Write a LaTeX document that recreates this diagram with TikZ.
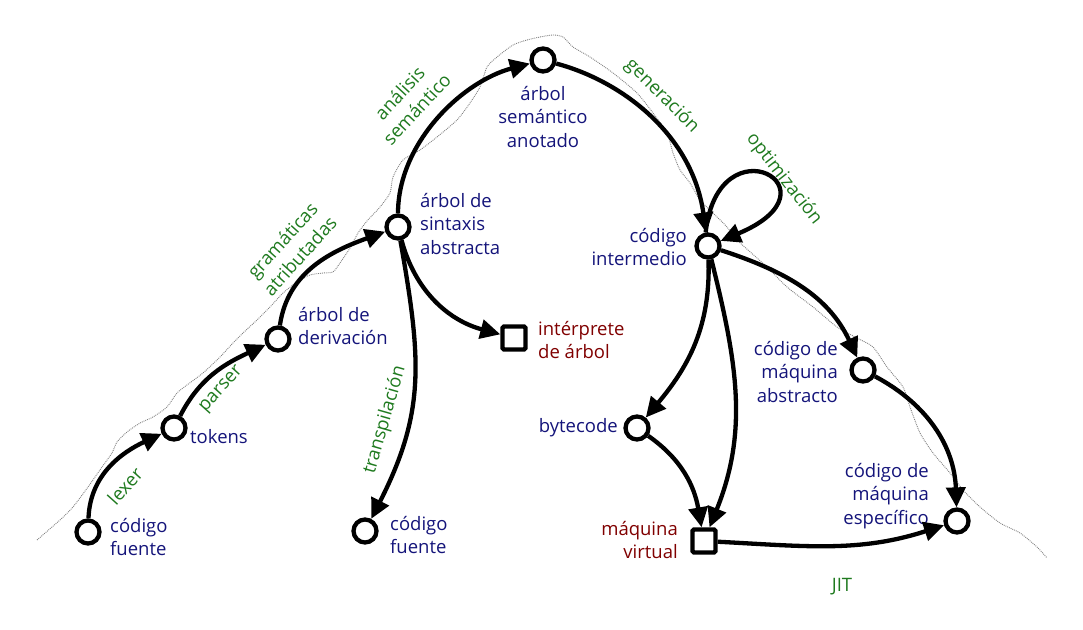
\documentclass[tikz,border=0pt]{standalone}
\usepackage{fontspec}
\setmainfont{Open Sans}
\usetikzlibrary{arrows.meta}
\definecolor{stblue}{HTML}{14147A}
\definecolor{stgreen}{HTML}{1F7A1F}
\definecolor{stred}{HTML}{800000}
\begin{document}
\begin{tikzpicture}[x=1pt,y=1pt,
  state/.style={circle, draw, line width=4.3pt, fill=white, minimum size=23pt, inner sep=0pt},
  machine/.style={rectangle, draw, line width=4.3pt, fill=white, minimum size=23pt, inner sep=0pt, rounded corners=1.5pt},
  flow/.style={line width=4.3pt, -{Triangle[length=20pt,width=19pt]}},
  txt/.style={font=\fontsize{18.5}{23.5}\selectfont, inner sep=0pt},
  sname/.style={txt, text=stblue},
  mname/.style={txt, text=stred},
  ename/.style={txt, text=stgreen, align=center},
]
\useasboundingbox (0,0) rectangle (1083,629);

% outline of the abstraction level
\begin{scope}[shift={(0,629)}, yscale=-1]
\draw[gray, line width=0.9pt, densely dotted]
  plot[smooth, tension=0.4] coordinates {
  (37,540) (60,520) (73,507) (88,487) (102,467) (112,453) (117,442) (127,432)
  (140,423) (153,417) (167,407) (177,393) (187,385) (203,373) (220,357)
  (233,343) (243,333) (257,320) (270,307) (283,293) (297,282) (310,275)
  (323,273) (333,272) (340,263) (350,248) (358,233) (367,221) (380,207)
  (390,193) (393,177) (403,160) (420,150) (437,137) (457,120) (470,103)
  (480,87) (487,67) (497,57) (513,45) (527,40) (540,37) (553,35) (563,37)
  (573,47) (590,57) (613,73) (637,93) (653,113) (667,133) (673,153)
  (680,170) (690,183) (700,200) (713,213) (727,227) (737,240) (767,267)
  (787,287) (813,307) (837,327) (857,338) (873,347) (887,367) (903,387)
  (910,407) (920,433) (933,453) (950,473) (963,490) (980,507) (1000,523)
  (1020,533) (1037,547) (1047,558)};
\end{scope}

% states
\node[state] (cf1) at (88,97) {};
\node[state] (tok) at (174,201) {};
\node[state] (der) at (278,290) {};
\node[state] (ast) at (398,402) {};
\node[state] (sem) at (543,569) {};
\node[state] (ir) at (708,383) {};
\node[machine] (interp) at (514,291) {};
\node[state] (cf2) at (365,98) {};
\node[state] (bc) at (637,201) {};
\node[machine] (vm) at (704,88) {};
\node[state] (abs) at (863,259) {};
\node[state] (spec) at (957,108) {};

% state names
\node[sname, anchor=west, align=left] (cf1t) at (110,92) {código\\fuente};
\node[sname, anchor=west] (tokt) at (190,192) {tokens};
\node[sname, anchor=west, align=left] (dert) at (298,303) {árbol de\\derivación};
\node[sname, anchor=west, align=left] (astt) at (420,405) {árbol de\\sintaxis\\abstracta};
\node[sname, align=center] (semt) at (543,512) {árbol\\semántico\\anotado};
\node[sname, anchor=east, align=right] (irt) at (687,382) {código\\intermedio};
\node[mname, anchor=west, align=left] (interpt) at (538,289) {intérprete\\de árbol};
\node[sname, anchor=west, align=left] (cf2t) at (390,94) {código\\fuente};
\node[sname, anchor=east] (bct) at (618,201) {bytecode};
\node[mname, anchor=east, align=right] (vmt) at (678,89) {máquina\\virtual};
\node[sname, anchor=east, align=right] (abst) at (838,257) {código de\\máquina\\abstracto};
\node[sname, anchor=east, align=right] (spect) at (929,133) {código de\\máquina\\específico};

% transformations
\draw[flow] (cf1) to[out=88, in=205] (tok);
\draw[flow] (tok) to[out=63, in=205] (der);
\draw[flow] (der) to[out=82, in=200] (ast);
\draw[flow] (ast) to[out=90, in=195, looseness=0.9] (sem);
\draw[flow] (sem) to[out=-15, in=98, out looseness=0.8, in looseness=1.1] (ir);
\draw[flow] (ir.100) .. controls (718,510) and (845,440) .. (ir.22);
\draw[flow] (ir) to[out=-18, in=115] (abs);
\draw[flow] (ir) to[out=-88, in=50] (bc);
\draw[flow] (ir) to[out=-76, in=68] (vm);
\draw[flow] (bc) to[out=-35, in=100] (vm);
\draw[flow] (vm) to[out=-3, in=198] (spec);
\draw[flow] (abs) to[out=-28, in=92] (spec);
\draw[flow] (ast) to[out=-75, in=165] (interp);
\draw[flow] (ast) to[out=-80, in=63, looseness=1.1] (cf2);

% transformation names
\node[ename, rotate=48] (lexer) at (125,143) {lexer};
\node[ename, rotate=48] (parser) at (222,239) {parser};
\node[ename, rotate=48] (attr) at (291,381) {gramáticas\\atributadas};
\node[ename, rotate=47] (semana) at (408,528) {análisis\\semántico};
\node[ename, rotate=-45] (gen) at (662,533) {generación};
\node[ename, rotate=-52] (opt) at (784,450) {optimización};
\node[ename, rotate=74] (transp) at (385,209) {transpilación};
\node[ename] (jit) at (842,42) {JIT};
\end{tikzpicture}
\end{document}
